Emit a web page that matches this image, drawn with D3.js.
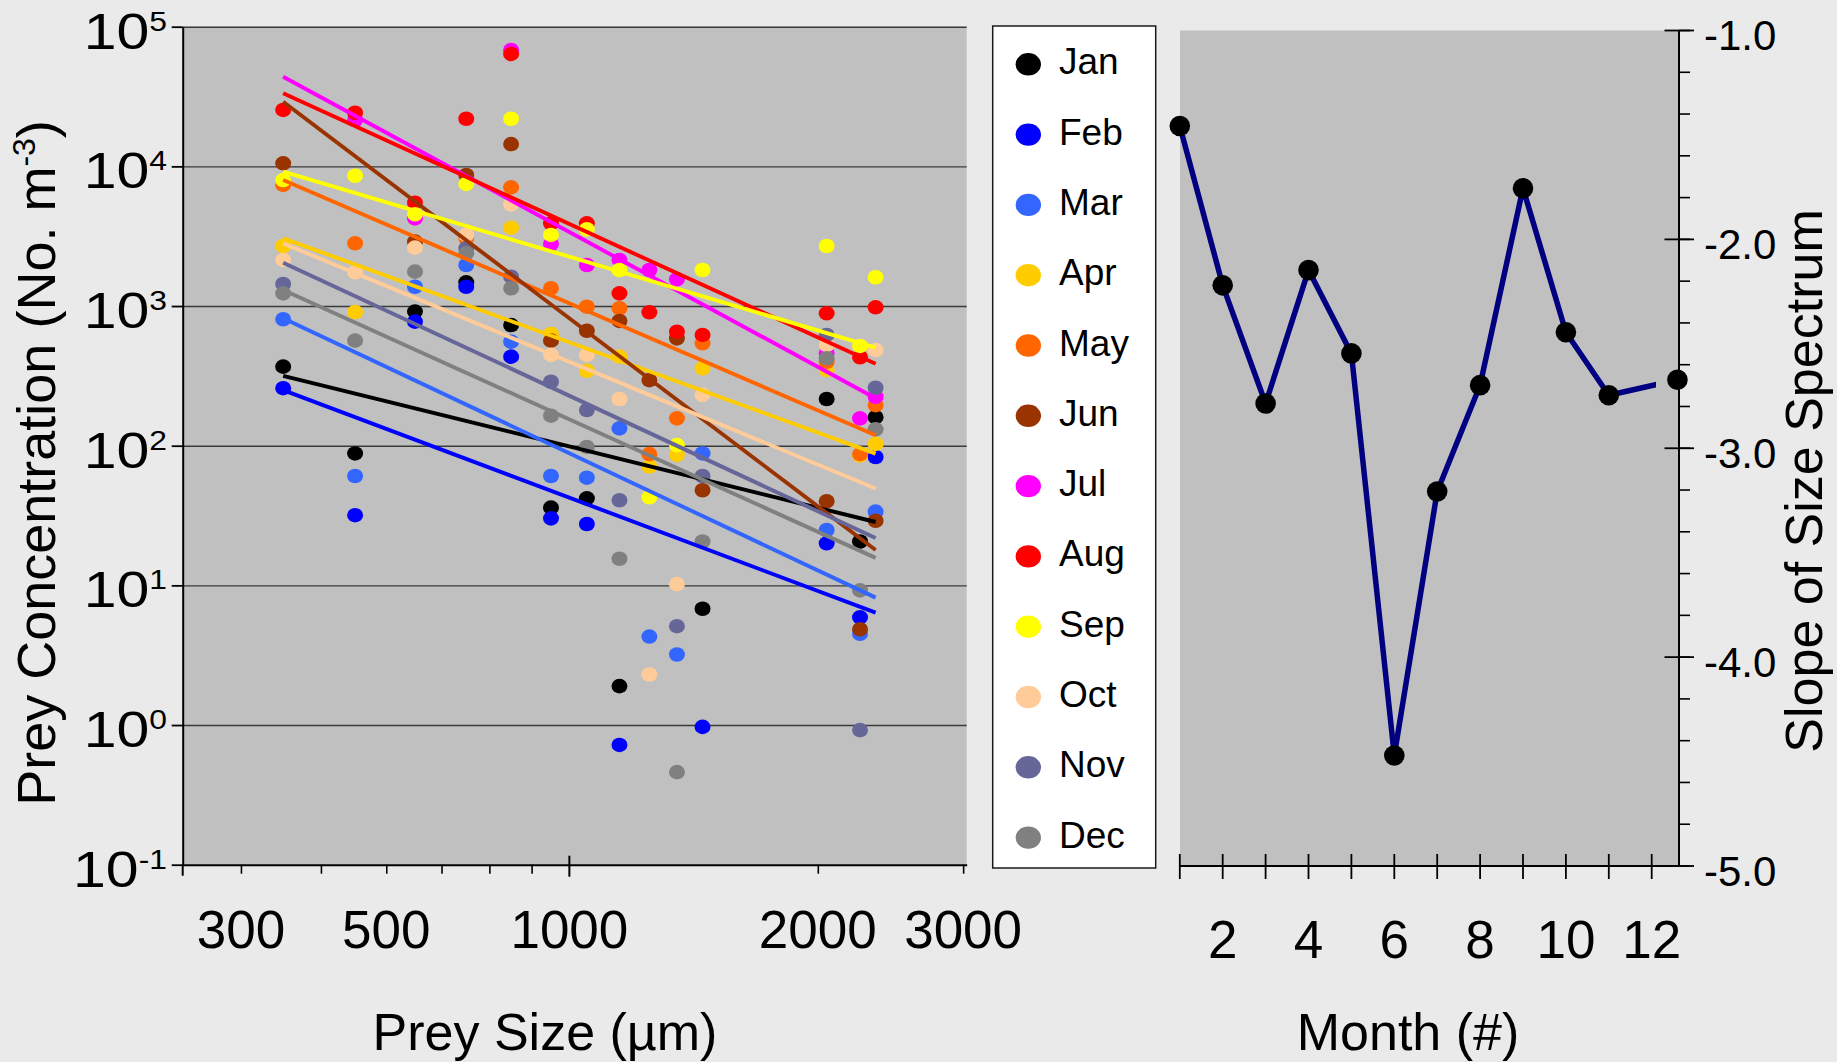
<!DOCTYPE html>
<html>
<head>
<meta charset="utf-8">
<script src="https://cdn.jsdelivr.net/npm/d3@7"></script>
<style>
  body { margin: 0; background: #eaeaea; }
  svg { display: block; }
  text { font-family: "Liberation Sans", Arial, sans-serif; fill: #000; }
</style>
</head>
<body>
<svg id="chart"></svg>
<script>
// prey size classes (µm) and monthly concentrations (No. m-3), null = not visible
const sizes = [450, 550, 650, 750, 850, 950, 1050, 1150, 1250, 1350, 1450, 2050, 2250, 2350];
const monthNames = ["Jan", "Feb", "Mar", "Apr", "May", "Jun", "Jul", "Aug", "Sep", "Oct", "Nov", "Dec"];
const monthColors = ["#000000", "#0000ff", "#3366ff", "#ffcc00", "#ff6600", "#993300",
                     "#ff00ff", "#ff0000", "#ffff00", "#ffcc99", "#666699", "#808080"];

const janConc = [368, 88, 912, 1479, 731, 36, 42, 1.9, null, null, 6.8, 216, 20.6, 160];
const febConc = [258, 31.8, 773, 1374, 434, 30.2, 27.5, 0.72, null, null, 0.97, 20, 5.9, 83];
const marConc = [804, 60.7, 1374, 1968, 556, 60.7, 59, 133, 4.3, 3.2, 88, 24.9, 4.5, 33.7];
const aprConc = [2692, 906, null, null, 3639, 631, 344, 434, 71, 86, 358, 348, 85, 103];
const mayConc = [7362, 2812, null, 3069, 7079, 1340, 989, 964, 87, 157, 541, 399, 87, 195];
const junConc = [10520, null, 2891, 8670, 14450, 565, 665, 782, 295, 587, 48, 40, 4.85, 29];
const julConc = [null, 21480, 4246, null, 68080, 2780, 1968, 2138, 1811, 1552, null, 459, 157, 224];
const augConc = [25350, 24210, 5495, 21930, 63830, 3908, 3908, 1233, 902, 655, 621, 887, 430, 979];
const sepConc = [7980, 8570, 4539, 7482, 21930, 3228, 3540, 1811, 42.7, 101, 1811, 2692, 518, 1607];
const octConc = [2138, 1746, 2618, 3228, 5346, 447, 447, 216, 2.3, 10.2, 231, 526, null, 484];
const novConc = [1439, null, null, 2588, 1622, 287, 180, 40.7, null, 5.1, 60.7, 621, 0.92, 260];
const decConc = [1233, 565, 1762, 2388, 1340, 164, 98, 15.5, null, 0.46, 20.6, 423, 9.2, 131];
const concByMonth = [janConc, febConc, marConc, aprConc, mayConc, junConc,
                     julConc, augConc, sepConc, octConc, novConc, decConc];

// power-law fits: value at 450 µm, slope = right panel
const fitAt450 = [316, 250, 817, 3055, 7980, 29000, 43850, 33350, 9160, 2810, 2040, 1303];
const months = [1, 2, 3, 4, 5, 6, 7, 8, 9, 10, 11, 12];
const slopes = [-1.457, -2.22, -2.786, -2.147, -2.546, -4.471, -3.207, -2.698, -1.755, -2.445, -2.746, -2.672];
// where each point sits on the month axis (Dec is drawn on the right axis in the source)
const monthPos = [1, 2, 3, 4, 5, 6, 7, 8, 9, 10, 11, 12.6];

const yExps = [-1, 0, 1, 2, 3, 4, 5];
const xMinorTicks = [400, 500, 600, 700, 800, 900, 2000, 3000];
const xLabelAt = [400, 600, 1000, 2000, 3000];
const xLabels = ["300", "500", "1000", "2000", "3000"];
const monthLabels = [2, 4, 6, 8, 10, 12];
const slopeTicks = [-1, -2, -3, -4, -5];

const W = 1837, H = 1062;
const svg = d3.select("#chart").attr("width", W).attr("height", H);
svg.append("rect").attr("width", W).attr("height", H).attr("fill", "#eaeaea");

// ---------- left panel ----------
const pL = { left: 182.7, right: 966.7, top: 26.7, bottom: 864.7 };
const x = d3.scaleLog().domain([340, 3030]).range([pL.left, pL.right]);
const y = d3.scaleLog().domain([0.1, 1e5]).range([pL.bottom, pL.top]);

svg.append("rect")
  .attr("x", pL.left).attr("y", pL.top)
  .attr("width", pL.right - pL.left).attr("height", pL.bottom - pL.top)
  .attr("fill", "#c0c0c0");

// gridlines
svg.append("g")
  .attr("transform", `translate(${pL.left},0)`)
  .call(d3.axisLeft(y).tickValues(yExps.slice(1).map(e => Math.pow(10, e)))
    .tickSize(-(pL.right - pL.left)).tickFormat(""))
  .call(g => g.select(".domain").remove())
  .call(g => g.selectAll("line").attr("stroke", "#3a3a3a").attr("stroke-width", 1.4));

// dots
concByMonth.forEach((vals, m) => {
  svg.append("g")
    .selectAll("ellipse")
    .data(sizes.map((s, i) => [s, vals[i]]).filter(d => d[1] != null))
    .join("ellipse")
    .attr("cx", d => x(d[0]))
    .attr("cy", d => y(d[1]))
    .attr("rx", 8).attr("ry", 7.3)
    .attr("fill", monthColors[m]);
});

// fitted lines
const fitLine = d3.line().x(d => x(d[0])).y(d => y(d[1]));
fitAt450.forEach((a, m) => {
  const ends = [sizes[0], sizes[sizes.length - 1]].map(s => [s, a * Math.pow(s / sizes[0], slopes[m])]);
  svg.append("path")
    .attr("d", fitLine(ends))
    .attr("fill", "none")
    .attr("stroke", monthColors[m])
    .attr("stroke-width", 3.9);
});

// y axis
svg.append("g")
  .attr("transform", `translate(${pL.left},0)`)
  .call(d3.axisLeft(y).tickValues(yExps.map(e => Math.pow(10, e))).tickSize(11).tickSizeOuter(0).tickFormat(""))
  .call(g => g.select(".domain").attr("stroke-width", 2))
  .call(g => g.selectAll("line").attr("stroke-width", 1.8));
svg.append("line")
  .attr("x1", pL.left).attr("x2", pL.left)
  .attr("y1", pL.bottom).attr("y2", pL.bottom + 11)
  .attr("stroke", "#000").attr("stroke-width", 2);

const yLab = svg.append("g").selectAll("text")
  .data(yExps)
  .join("text")
  .attr("transform", e => `translate(167,${y(Math.pow(10, e)) + 22}) scale(1.18,1)`)
  .attr("text-anchor", "end")
  .attr("font-size", 50);
yLab.append("tspan").text("10");
yLab.append("tspan").attr("font-size", 27).attr("dy", -18).text(e => String(e));

// x axis
svg.append("g")
  .attr("transform", `translate(0,${pL.bottom})`)
  .call(d3.axisBottom(x).tickValues(xMinorTicks).tickSize(9).tickSizeOuter(0).tickFormat(""))
  .call(g => g.select(".domain").attr("stroke-width", 2))
  .call(g => g.selectAll("line").attr("stroke-width", 1.6));
svg.append("line")
  .attr("x1", x(1000)).attr("x2", x(1000))
  .attr("y1", pL.bottom - 9).attr("y2", pL.bottom + 12)
  .attr("stroke", "#000").attr("stroke-width", 2);

svg.append("g").selectAll("text")
  .data(xLabelAt)
  .join("text")
  .attr("x", d => x(d)).attr("y", 948)
  .attr("text-anchor", "middle")
  .attr("font-size", 53)
  .text((d, i) => xLabels[i]);

svg.append("text")
  .attr("x", 545).attr("y", 1050)
  .attr("text-anchor", "middle").attr("font-size", 52)
  .text("Prey Size (µm)");

const yTitle = svg.append("text")
  .attr("transform", "translate(55,463) rotate(-90)")
  .attr("text-anchor", "middle").attr("font-size", 54);
yTitle.append("tspan").text("Prey Concentration (No. m");
yTitle.append("tspan").attr("font-size", 32).attr("dy", -20).text("-3");
yTitle.append("tspan").attr("dy", 20).text(")");

// ---------- legend ----------
const leg = svg.append("g");
leg.append("rect")
  .attr("x", 992.7).attr("y", 26)
  .attr("width", 163).attr("height", 842)
  .attr("fill", "#fff").attr("stroke", "#1a1a1a").attr("stroke-width", 1.5);
const legItem = leg.selectAll("g.item")
  .data(monthNames)
  .join("g")
  .attr("class", "item")
  .attr("transform", (d, i) => `translate(0,${64.3 + i * 70.3})`);
legItem.append("ellipse")
  .attr("cx", 1028.3).attr("cy", 0)
  .attr("rx", 12.7).attr("ry", 11.2)
  .attr("fill", (d, i) => monthColors[i]);
legItem.append("text")
  .attr("x", 1059).attr("y", 10)
  .attr("font-size", 37)
  .text(d => d);

// ---------- right panel ----------
const pR = { left: 1180, right: 1679, top: 30.5, bottom: 866 };
const xm = d3.scaleLinear().domain([1, 12]).range([1179.8, 1651.7]);
const ys = d3.scaleLinear().domain([-5, -1]).range([pR.bottom, pR.top]);

svg.append("rect")
  .attr("x", pR.left).attr("y", pR.top)
  .attr("width", pR.right - pR.left).attr("height", pR.bottom - pR.top)
  .attr("fill", "#c0c0c0");

svg.append("defs").append("clipPath").attr("id", "monthClip")
  .append("rect")
  .attr("x", 0).attr("y", 0)
  .attr("width", xm(12.1)).attr("height", H);

svg.append("path")
  .datum(slopes)
  .attr("clip-path", "url(#monthClip)")
  .attr("d", d3.line().x((d, i) => xm(monthPos[i])).y(d => ys(d)))
  .attr("fill", "none")
  .attr("stroke", "#000080")
  .attr("stroke-width", 5.5)
  .attr("stroke-linejoin", "round");

svg.append("g").selectAll("circle")
  .data(slopes)
  .join("circle")
  .attr("cx", (d, i) => xm(monthPos[i]))
  .attr("cy", d => ys(d))
  .attr("r", 10.3)
  .attr("fill", "#000");

// month axis
svg.append("line")
  .attr("x1", pR.left).attr("x2", pR.right)
  .attr("y1", pR.bottom).attr("y2", pR.bottom)
  .attr("stroke", "#000").attr("stroke-width", 2);
svg.append("g").selectAll("line")
  .data(months)
  .join("line")
  .attr("x1", d => xm(d)).attr("x2", d => xm(d))
  .attr("y1", pR.bottom - 12).attr("y2", pR.bottom + 13)
  .attr("stroke", "#000").attr("stroke-width", 1.8);
svg.append("g").selectAll("text")
  .data(monthLabels)
  .join("text")
  .attr("x", d => xm(d)).attr("y", 958)
  .attr("text-anchor", "middle")
  .attr("font-size", 53)
  .text(d => d);
svg.append("text")
  .attr("x", 1408).attr("y", 1050)
  .attr("text-anchor", "middle").attr("font-size", 52)
  .text("Month (#)");

// slope axis on the right
svg.append("line")
  .attr("x1", pR.right).attr("x2", pR.right)
  .attr("y1", pR.top).attr("y2", pR.bottom)
  .attr("stroke", "#000").attr("stroke-width", 2);
svg.append("g").selectAll("line")
  .data(d3.range(-5, -0.99, 0.2))
  .join("line")
  .attr("x1", pR.right).attr("x2", pR.right + 11)
  .attr("y1", d => ys(d)).attr("y2", d => ys(d))
  .attr("stroke", "#000").attr("stroke-width", 1.6);
svg.append("g").selectAll("line")
  .data(slopeTicks)
  .join("line")
  .attr("x1", pR.right - 14.5).attr("x2", pR.right + 15)
  .attr("y1", d => ys(d)).attr("y2", d => ys(d))
  .attr("stroke", "#000").attr("stroke-width", 1.8);
svg.append("g").selectAll("text")
  .data(slopeTicks)
  .join("text")
  .attr("x", 1704).attr("y", d => ys(d) + 19.5)
  .attr("font-size", 42)
  .text(d => d.toFixed(1));

svg.append("text")
  .attr("transform", "translate(1822,481) rotate(-90)")
  .attr("text-anchor", "middle").attr("font-size", 52)
  .text("Slope of Size Spectrum");
</script>
</body>
</html>
